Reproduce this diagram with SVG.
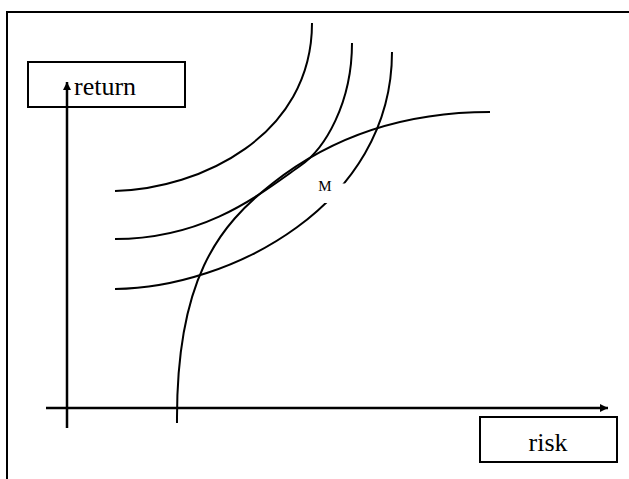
<svg xmlns="http://www.w3.org/2000/svg" width="629" height="479" viewBox="0 0 629 479">
<style>
.box{fill:#fff;stroke:#000;stroke-width:2}
.curve{fill:none;stroke:#000;stroke-width:2}
.axis{fill:none;stroke:#000;stroke-width:2.5}
.lbl{font-family:"Liberation Serif","Times New Roman",serif;fill:#000}
</style>
<defs>
<marker id="ah" viewBox="0 0 10 10" refX="10" refY="5" markerWidth="8" markerHeight="8" markerUnits="userSpaceOnUse" orient="auto">
<path d="M0,0 L10,5 L0,10 Z" fill="#000"/>
</marker>
</defs>
<rect x="0" y="0" width="629" height="479" fill="#fff"/>
<path d="M7,479 V12 H629" fill="none" stroke="#000" stroke-width="2"/>
<g id="return-label">
<rect class="box" x="28" y="62" width="157" height="45"/>
<text class="lbl" x="74" y="95" font-size="26">return</text>
</g>
<g id="risk-label">
<rect class="box" x="480" y="417" width="137" height="45"/>
<text class="lbl" x="548" y="451" font-size="26" text-anchor="middle">risk</text>
</g>
<g id="connectors">
<line class="axis" x1="67" y1="428" x2="67" y2="82" marker-end="url(#ah)"/>
<line class="axis" x1="46" y1="408" x2="608" y2="408" marker-end="url(#ah)"/>
<path id="curve1" class="curve" d="M312,23 C312,136 200,189 115,191"/>
<path id="curve2" class="curve" d="M352,43 C352,103 325,149 300,166 C259,195 205,239 115,239"/>
<path id="curve3" class="curve" d="M392,52 C392,205 230,288 115,289"/>
<path id="frontier" class="curve" d="M177,423 C176,280 218,226 273,183 C320,146 390,112 490,112"/>
</g>
<g id="M">
<rect x="316" y="183.5" width="36" height="19.5" fill="#fff"/>
<text class="lbl" x="325" y="191" font-size="15" text-anchor="middle">M</text>
</g>
</svg>
